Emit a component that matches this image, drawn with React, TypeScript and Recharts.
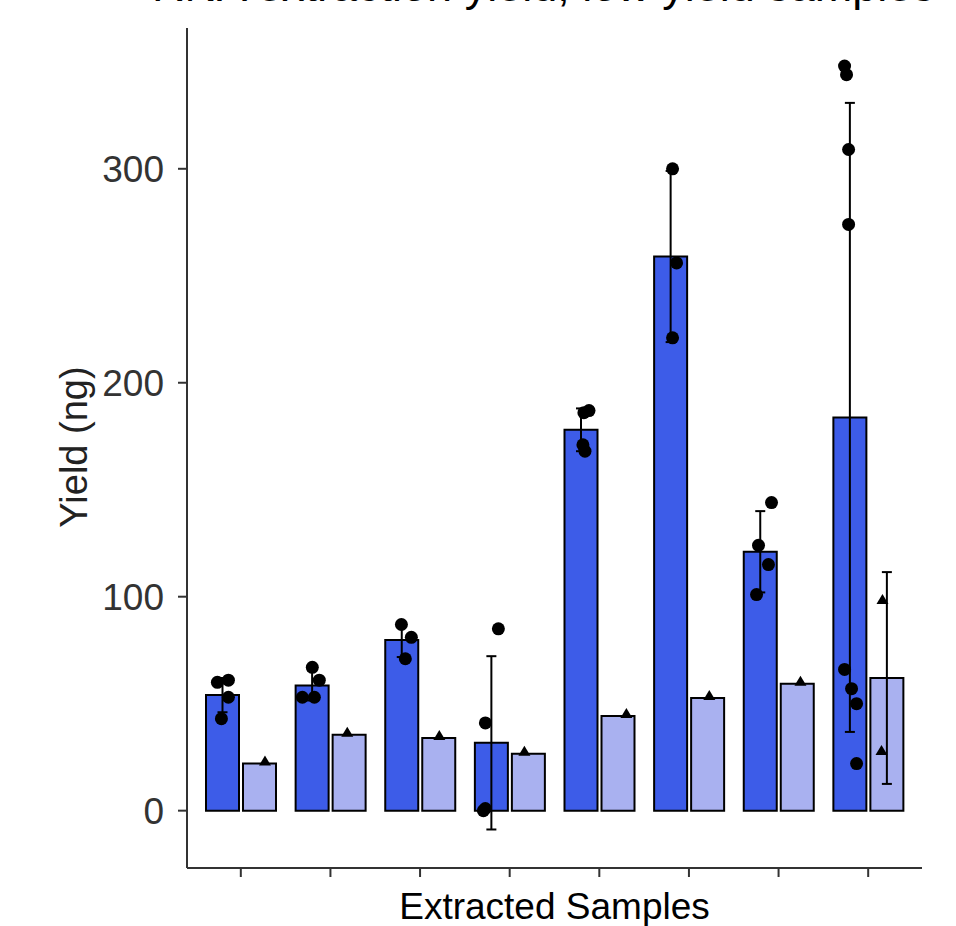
import React from 'react';
import {
  ComposedChart,
  Bar,
  Scatter,
  ErrorBar,
  XAxis,
  YAxis,
  Label,
} from 'recharts';

// Yield per extracted sample: dark = first series (circles), light = second series (triangles)
const samples = ['S1', 'S2', 'S3', 'S4', 'S5', 'S6', 'S7', 'S8'];

const darkMean = [54, 58.5, 79.8, 31.7, 178, 259, 121, 183.8];
const darkSd = [8, 7, 8, 40.5, 10, 40, 19, 147];
const lightMean = [22, 35.5, 34, 26.6, 44.3, 52.7, 59.3, 62];
const lightSd = [null, null, null, null, null, null, null, 49.5];

const darkPoints = [
  [60, 61, 53, 43],
  [67, 61, 53, 53],
  [87, 81, 71],
  [85, 41, 0, 1],
  [186, 187, 171, 168],
  [300, 256, 221],
  [144, 124, 115, 101],
  [348, 344, 309, 274, 66, 57, 50, 22],
];
// horizontal jitter, in category widths
const darkJitter = [
  [-0.056, 0.067, 0.067, -0.011],
  [0.003, 0.081, -0.108, 0.026],
  [-0.003, 0.108, 0.041],
  [0.079, -0.066, -0.088, -0.067],
  [0.033, 0.09, 0.022, 0.045],
  [0.022, 0.067, 0.022],
  [0.126, -0.019, 0.092, -0.041],
  [-0.059, -0.037, -0.014, -0.014, -0.059, 0.019, 0.075, 0.075],
];

const lightPoints = [[22], [35.5], [34], [26.6], [44.3], [52.7], [59.3], [97.5, 27]];
const lightJitter = [[0.065], [-0.017], [0.01], [-0.041], [0.097], [0.022], [0.039], [-0.046, -0.057]];

const yTicks = [0, 100, 200, 300];
const Y_DOMAIN: [number, number] = [-26.8, 365.8];
const X_DOMAIN: [number, number] = [-0.6, 7.6];
const DODGE = 0.205;

const DARK = '#3D5CE8';
const LIGHT = '#A9B1F0';
const FONT = '"Liberation Sans", Arial, sans-serif';

const barData = samples.map((name, i) => ({
  name,
  dark: darkMean[i],
  darkErr: darkSd[i],
  light: lightMean[i],
  lightErr: lightSd[i],
}));

const darkDots = darkPoints.flatMap((vals, i) =>
  vals.map((y, j) => ({ x: i - DODGE + darkJitter[i][j], y })),
);
const lightDots = lightPoints.flatMap((vals, i) =>
  vals.map((y, j) => ({ x: i + DODGE + lightJitter[i][j], y })),
);

function Dot(props: any) {
  const { cx, cy } = props;
  if (cx == null || cy == null) return null;
  return <circle cx={cx} cy={cy} r={6.5} fill="#000" />;
}

function Tri(props: any) {
  const { cx, cy } = props;
  if (cx == null || cy == null) return null;
  return (
    <path
      d={`M${cx},${cy - 8} L${cx + 6},${cy + 2} L${cx - 6},${cy + 2} Z`}
      fill="#000"
    />
  );
}

export default function App() {
  return (
    <div style={{ position: 'absolute', left: 0, top: 0, width: 956, height: 926, background: '#fff' }}>
      <svg
        width={956}
        height={30}
        style={{ position: 'absolute', left: 0, top: 0, overflow: 'visible' }}
      >
        <text x={152} y={0.5} fontSize={45} fontFamily={FONT} fill="#000">
          RNA extraction yield, low yield samples
        </text>
      </svg>
      <ComposedChart
        width={956}
        height={926}
        data={barData}
        margin={{ top: 28, right: 34, bottom: 0, left: 0 }}
        barCategoryGap={10}
        barGap={4}
      >
        <XAxis
          xAxisId="cat"
          dataKey="name"
          height={58}
          padding={{ left: 9, right: 9 }}
          axisLine={{ stroke: '#333', strokeWidth: 2 }}
          tickLine={{ stroke: '#333', strokeWidth: 2 }}
          tickSize={9}
          tickFormatter={() => ''}
        >
          <Label
            content={() => (
              <text x={554.5} y={919} textAnchor="middle" fontSize={37} fontFamily={FONT} fill="#000">
                Extracted Samples
              </text>
            )}
          />
        </XAxis>
        <XAxis xAxisId="num" type="number" dataKey="x" domain={X_DOMAIN} allowDataOverflow hide />
        <YAxis
          yAxisId="main"
          width={187}
          domain={Y_DOMAIN}
          ticks={yTicks}
          allowDataOverflow
          axisLine={{ stroke: '#333', strokeWidth: 2 }}
          tickLine={{ stroke: '#333', strokeWidth: 2 }}
          tickSize={9}
          tickMargin={14}
          tick={{ fontSize: 37, fontFamily: FONT, fill: '#333' }}
        >
          <Label
            content={() => (
              <text
                x={87}
                y={447}
                transform="rotate(-90 87 447)"
                textAnchor="middle"
                fontSize={38}
                fontFamily={FONT}
                fill="#222"
              >
                Yield (ng)
              </text>
            )}
          />
        </YAxis>
        <YAxis yAxisId="pts" type="number" dataKey="y" domain={Y_DOMAIN} allowDataOverflow hide />
        <Bar
          xAxisId="cat"
          yAxisId="main"
          dataKey="dark"
          fill={DARK}
          stroke="#000"
          strokeWidth={2}
          isAnimationActive={false}
        >
          <ErrorBar dataKey="darkErr" width={5} stroke="#000" strokeWidth={2} direction="y" />
        </Bar>
        <Bar
          xAxisId="cat"
          yAxisId="main"
          dataKey="light"
          fill={LIGHT}
          stroke="#000"
          strokeWidth={2}
          isAnimationActive={false}
        >
          <ErrorBar dataKey="lightErr" width={5} stroke="#000" strokeWidth={2} direction="y" />
        </Bar>
        <Scatter xAxisId="num" yAxisId="pts" data={darkDots} shape={Dot} isAnimationActive={false} />
        <Scatter xAxisId="num" yAxisId="pts" data={lightDots} shape={Tri} isAnimationActive={false} />
      </ComposedChart>
    </div>
  );
}
